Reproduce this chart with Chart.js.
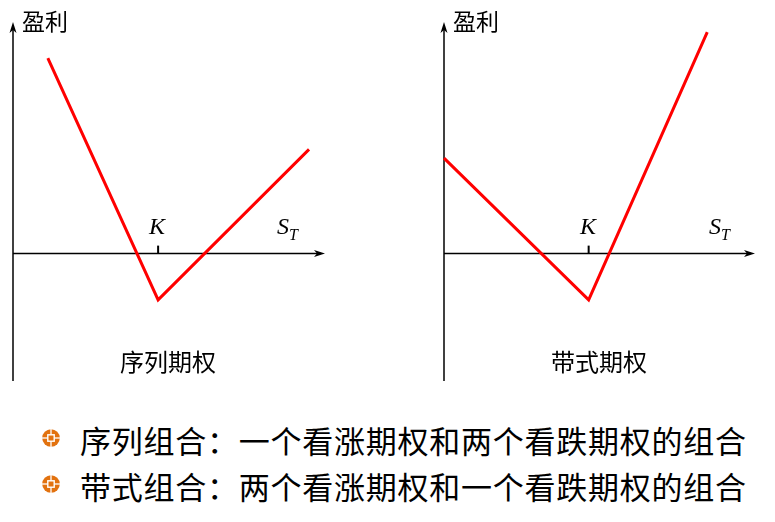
<!DOCTYPE html>
<html>
<head>
<meta charset="utf-8">
<script src="https://cdn.jsdelivr.net/npm/chart.js@4.4.1/dist/chart.umd.min.js"></script>
<style>
  html, body { margin: 0; padding: 0; background: #fff; }
  body { width: 775px; height: 522px; position: relative; overflow: hidden; font-family: "Noto Sans CJK SC", "Noto Sans", sans-serif; color: #000; }
  .abs { position: absolute; white-space: nowrap; line-height: 1; }
  .cjk { font-family: "Noto Sans CJK SC", sans-serif; }
  .math { font-family: "Liberation Serif", "DejaVu Serif", serif; font-style: italic; }
  canvas { position: absolute; top: 0; }
  .bullet { position: absolute; width: 18px; height: 18px; }
</style>
</head>
<body>
<canvas id="c1" width="340" height="400" style="left:0px"></canvas>
<canvas id="c2" width="345" height="400" style="left:430px"></canvas>

<div class="abs cjk" style="left:22px;top:9px;font-size:23px;">盈利</div>
<div class="abs cjk" style="left:453px;top:9px;font-size:23px;">盈利</div>

<div class="abs math" style="left:149px;top:214px;font-size:24px;">K</div>
<div class="abs math" style="left:580px;top:214px;font-size:24px;">K</div>

<div class="abs math" style="left:277px;top:214px;font-size:24px;">S<span style="font-size:16px;position:relative;top:6px;">T</span></div>
<div class="abs math" style="left:709px;top:214px;font-size:24px;">S<span style="font-size:16px;position:relative;top:6px;">T</span></div>

<div class="abs cjk" style="left:120px;top:349px;font-size:24px;">序列期权</div>
<div class="abs cjk" style="left:551px;top:349px;font-size:24px;">带式期权</div>

<svg class="bullet" style="left:41.5px;top:429px" viewBox="0 0 18 18">
  <circle cx="9" cy="9" r="8.8" fill="#e2720f"/>
  <line x1="9" y1="0" x2="9" y2="18" stroke="#fff" stroke-width="1.3"/>
  <line x1="0" y1="9" x2="18" y2="9" stroke="#fff" stroke-width="1.3"/>
  <rect x="5.8" y="5.8" width="6.4" height="6.4" fill="#e2720f" stroke="#fff" stroke-width="1.4"/>
</svg>
<svg class="bullet" style="left:41.5px;top:475px" viewBox="0 0 18 18">
  <circle cx="9" cy="9" r="8.8" fill="#e2720f"/>
  <line x1="9" y1="0" x2="9" y2="18" stroke="#fff" stroke-width="1.3"/>
  <line x1="0" y1="9" x2="18" y2="9" stroke="#fff" stroke-width="1.3"/>
  <rect x="5.8" y="5.8" width="6.4" height="6.4" fill="#e2720f" stroke="#fff" stroke-width="1.4"/>
</svg>
<div class="abs cjk" style="left:80px;top:424px;font-size:31px;letter-spacing:0.75px;">序列组合：一个看涨期权和两个看跌期权的组合</div>
<div class="abs cjk" style="left:80px;top:470px;font-size:31px;letter-spacing:0.75px;">带式组合：两个看涨期权和一个看跌期权的组合</div>

<script>
// ---- data ----
const strikeK = 100;
const stripX = [24, 100, 204];
const stripY = [135, -32, 72];
const strapX = [0, 100, 182];
const strapY = [66, -32, 153];
const xAxisMin = 0, xAxisMax = 215;
const yAxisMin = -88, yAxisMax = 160;

function toPoints(xs, ys) { return xs.map((x, i) => ({ x: x, y: ys[i] })); }

const axesPlugin = {
  id: 'payoffAxes',
  beforeDatasetsDraw(chart) {
    const ctx = chart.ctx;
    const xs = chart.scales.x, ys = chart.scales.y;
    const x0 = xs.getPixelForValue(0);
    const y0 = ys.getPixelForValue(0);
    const top = chart.chartArea.top, bottom = chart.chartArea.bottom, right = chart.chartArea.right;
    ctx.save();
    ctx.strokeStyle = '#000';
    ctx.fillStyle = '#000';
    ctx.lineWidth = 1.5;
    ctx.beginPath();
    ctx.moveTo(x0, bottom);
    ctx.lineTo(x0, top + 4);
    ctx.stroke();
    ctx.beginPath();
    ctx.moveTo(x0, top);
    ctx.lineTo(x0 - 3.5, top + 11);
    ctx.lineTo(x0, top + 8);
    ctx.lineTo(x0 + 3.5, top + 11);
    ctx.closePath();
    ctx.fill();
    ctx.beginPath();
    ctx.moveTo(x0, y0);
    ctx.lineTo(right - 4, y0);
    ctx.stroke();
    ctx.beginPath();
    ctx.moveTo(right, y0);
    ctx.lineTo(right - 11, y0 - 3.5);
    ctx.lineTo(right - 8, y0);
    ctx.lineTo(right - 11, y0 + 3.5);
    ctx.closePath();
    ctx.fill();
    const xk = xs.getPixelForValue(strikeK);
    ctx.lineWidth = 2;
    ctx.beginPath();
    ctx.moveTo(xk, y0);
    ctx.lineTo(xk, y0 - 8);
    ctx.stroke();
    ctx.restore();
  }
};

function makeChart(id, xs, ys, pad) {
  return new Chart(document.getElementById(id), {
    type: 'scatter',
    data: {
      datasets: [{
        data: toPoints(xs, ys),
        showLine: true,
        borderColor: '#ff0000',
        borderWidth: 3,
        pointRadius: 0,
        fill: false,
        tension: 0,
        borderJoinStyle: 'miter',
        clip: false
      }]
    },
    options: {
      responsive: false,
      animation: false,
      devicePixelRatio: 1,
      layout: { padding: pad },
      plugins: { legend: { display: false }, tooltip: { enabled: false } },
      scales: {
        x: { type: 'linear', min: xAxisMin, max: xAxisMax, display: false },
        y: { type: 'linear', min: yAxisMin, max: yAxisMax, display: false }
      }
    },
    plugins: [axesPlugin]
  });
}

makeChart('c1', stripX, stripY, { left: 13, right: 15, top: 22, bottom: 19 });
makeChart('c2', strapX, strapY, { left: 14, right: 20, top: 22, bottom: 19 });
</script>
</body>
</html>
